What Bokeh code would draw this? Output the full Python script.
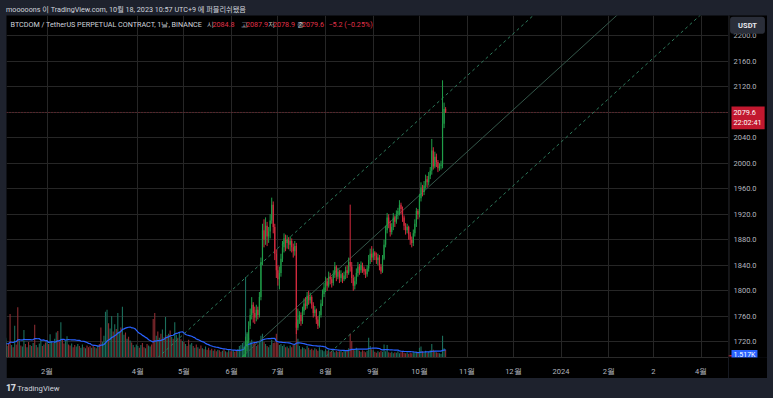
import pandas as pd
from bokeh.plotting import figure
from bokeh.models import Range1d, FixedTicker, Span, Label, Div, ColumnDataSource, Spacer
from bokeh.layouts import column, row
from bokeh.core.properties import value
from bokeh.embed import file_html
from bokeh.resources import INLINE

EPOCH = pd.Timestamp("2023-01-01")


def day(s):
    return (pd.Timestamp(s) - EPOCH).days


# ---------------- data ----------------
candle_start = "2023-06-07"
candle_first_open = 1672.0
candle_close = [
    1680, 1690, 1700, 1712, 1722, 1745, 1762, 1778, 1765, 1758, 1770, 1762, 1790, 1845, 1895, 1880, 1902, 1885, 1893, 1910, 1935, 1900, 1858, 1832,
    1818, 1828, 1850, 1868, 1882, 1875, 1880, 1872, 1878, 1868, 1862, 1870, 1742, 1755, 1762, 1752, 1768, 1780, 1776, 1792, 1785, 1790, 1778, 1765, 1770, 1755, 1745, 1762, 1780, 1795, 1805,
    1815, 1808, 1822, 1818, 1812, 1825, 1838, 1822, 1830, 1820, 1826, 1818, 1824, 1832, 1828, 1845, 1838, 1820, 1808, 1815, 1828, 1838, 1832, 1840, 1835, 1830, 1826, 1835, 1848, 1858, 1852,
    1860, 1855, 1848, 1852, 1838, 1830, 1850, 1872, 1895, 1915, 1905, 1892, 1900, 1915, 1908, 1920, 1925, 1935, 1928, 1915, 1902, 1895, 1900, 1888, 1880, 1875, 1890, 1905, 1925, 1920,
    1945, 1962, 1955, 1965, 1975, 1970, 1980, 1988, 2020, 1995, 2010, 2002, 1992, 1996, 1998, 2062, 2084.8, 2079.6,
]
candle_high = [
    1688, 1698, 1712, 1728, 1735, 1752, 1772, 1790, 1782, 1775, 1778, 1775, 1798, 1852, 1905, 1912, 1915, 1908, 1900, 1920, 1946, 1940, 1905, 1865,
    1840, 1838, 1858, 1878, 1890, 1888, 1887, 1884, 1885, 1882, 1874, 1878, 1875, 1772, 1768, 1766, 1775, 1788, 1790, 1798, 1800, 1797, 1793, 1782, 1776, 1772, 1760, 1768, 1786, 1802, 1812,
    1822, 1820, 1830, 1828, 1822, 1832, 1845, 1840, 1836, 1833, 1832, 1828, 1830, 1838, 1840, 1852, 1935, 1845, 1825, 1822, 1835, 1845, 1842, 1846, 1844, 1838, 1834, 1840, 1856, 1866, 1870,
    1866, 1862, 1860, 1858, 1856, 1842, 1856, 1880, 1902, 1922, 1920, 1910, 1906, 1922, 1918, 1926, 1930, 1942, 1938, 1932, 1918, 1906, 1905, 1902, 1892, 1885, 1896, 1912, 1930, 1928,
    1952, 1970, 1966, 1972, 1982, 1980, 1986, 1994, 2038, 2025, 2018, 2015, 2005, 2000, 2004, 2130, 2095, 2087.9,
]
candle_low = [
    1672, 1678, 1686, 1690, 1705, 1718, 1740, 1755, 1750, 1748, 1752, 1755, 1758, 1785, 1840, 1868, 1872, 1870, 1875, 1882, 1905, 1890, 1848, 1820,
    1808, 1802, 1822, 1845, 1860, 1862, 1866, 1865, 1862, 1860, 1852, 1855, 1732, 1738, 1748, 1745, 1748, 1762, 1770, 1772, 1778, 1780, 1772, 1758, 1760, 1748, 1740, 1742, 1758, 1776, 1790,
    1798, 1800, 1805, 1810, 1805, 1808, 1820, 1815, 1818, 1812, 1814, 1812, 1815, 1818, 1820, 1825, 1830, 1812, 1800, 1802, 1810, 1822, 1825, 1828, 1828, 1825, 1820, 1822, 1830, 1842, 1845,
    1848, 1848, 1842, 1840, 1832, 1826, 1828, 1848, 1868, 1890, 1898, 1885, 1888, 1895, 1900, 1905, 1912, 1918, 1920, 1908, 1895, 1888, 1890, 1880, 1872, 1868, 1870, 1885, 1900, 1912,
    1915, 1940, 1948, 1950, 1960, 1962, 1965, 1975, 1982, 1990, 1992, 1994, 1986, 1988, 1990, 1992, 2055, 2078.9,
]

vol_start = "2022-12-22"
vol_k = [
    # late Dec / early Jan (left of the visible window, feeds the MA)
    3.1, 2.4, 2.9, 2.2, 3.4, 2.6, 2.0, 3.8, 2.5, 2.7, 2.3, 3.0, 2.1, 2.8, 2.4,
    # Jan
    2.2, 2.6, 8.4, 2.4, 2.0, 6.1, 2.5, 9.7, 3.2, 2.3, 2.1, 5.3, 2.6, 2.0, 3.0, 2.4, 2.2, 2.8, 6.3, 2.4, 2.0, 2.7, 3.3, 2.2, 2.5, 2.9,
    # Feb
    3.0, 2.6, 4.5, 3.2, 2.8, 3.6, 4.8, 5.1, 3.0, 6.8, 3.4, 2.7, 3.2, 4.1, 2.5, 2.3, 2.7, 2.0, 2.4, 2.1, 2.6, 2.2, 1.9, 2.5, 2.0, 1.8, 2.3, 2.0,
    # Mar
    2.2, 1.9, 2.4, 2.0, 1.8, 2.3, 2.6, 5.8, 3.0, 4.2, 8.8, 9.2, 6.6, 5.6, 8.0, 5.0, 6.4, 5.5, 8.6, 5.0, 5.8, 9.8, 4.4, 4.8, 3.6, 4.0, 3.3, 2.9, 2.4, 2.0, 2.5,
    # Apr
    2.2, 1.9, 2.4, 2.8, 2.0, 1.8, 2.6, 2.3, 2.1, 2.5, 7.4, 8.6, 4.2, 5.0, 3.8, 4.6, 5.4, 3.9, 7.8, 4.3, 4.6, 5.2, 4.0, 3.6, 6.8, 4.4, 3.8, 4.9, 3.5, 3.2,
    # May
    3.0, 2.6, 2.2, 3.4, 2.5, 2.8, 2.2, 1.9, 2.5, 2.0, 1.7, 2.3, 1.8, 1.6, 2.1, 1.5, 1.9, 1.4, 1.7, 1.3, 1.6, 1.2, 1.5, 1.4, 1.1, 1.3, 1.6, 1.2, 1.0, 1.4, 1.2,
    # Jun
    1.2, 1.4, 1.1, 1.3, 1.6, 2.2, 2.4, 2.8, 3.0, 15.5, 4.6, 3.8, 3.0, 3.4, 2.6, 2.9, 2.2, 2.5, 3.1, 4.2, 4.6, 3.0, 2.6, 2.2, 2.0, 2.4, 3.4, 2.8, 2.9, 4.6,
    # Jul
    2.8, 2.4, 2.6, 2.2, 2.5, 2.0, 2.1, 1.8, 2.3, 2.0, 2.4, 2.6, 6.8, 3.6, 2.2, 1.6, 2.0, 1.8, 1.6, 2.2, 1.9, 1.5, 1.7, 1.4, 1.8, 1.6, 1.3, 2.0, 1.5, 1.4, 1.2,
    # Aug
    1.6, 1.3, 1.5, 1.1, 1.2, 1.4, 1.0, 1.3, 1.1, 1.2, 1.4, 1.0, 1.3, 1.2, 1.5, 1.8, 4.6, 3.2, 1.6, 1.4, 1.9, 1.5, 1.3, 1.1, 1.4, 1.2, 1.0, 1.3, 3.8, 2.2, 1.6,
    # Sep
    1.4, 1.1, 0.9, 1.2, 1.0, 1.3, 1.1, 2.5, 1.2, 2.4, 1.0, 0.9, 1.1, 0.8, 1.0, 0.9, 1.2, 0.8, 1.0, 1.1, 0.9, 0.8, 1.0, 0.7, 0.9, 0.8, 1.0, 0.9, 1.1, 1.0,
    # Oct
    1.9, 2.1, 1.2, 1.0, 1.3, 0.9, 1.1, 1.4, 2.6, 1.5, 1.2, 1.0, 0.9, 0.8, 0.7, 4.2, 1.8, 1.517,
]
# up/down of the volume bars before the first candle shown
vol_dir_pre = ("duduuddudu" "duudd"
               "uddududdud" "uududududu" "duudud"
               "uduuduuddu" "dduudduddu" "uduududd"
               "dududud" "duuuudu" "ududuud" "uududud" "udu"
               "ududdud" "uudddud" "udududu" "duduudu" "du"
               "dudduud" "ududdud" "uddudud" "duddudu" "dud"
               "dudduu")

time_tick_dates = ["2023-02-01", "2023-04-01", "2023-05-01", "2023-06-01", "2023-07-01", "2023-08-01", "2023-09-01",
                   "2023-10-01", "2023-11-01", "2023-12-01", "2024-01-01", "2024-02-01", "2024-03-01", "2024-04-01"]
time_tick_labels = ["2월", "4월", "5월", "6월", "7월", "8월", "9월", "10월", "11월", "12월", "2024", "2월", "2", "4월"]
price_ticks = [1720, 1760, 1800, 1840, 1880, 1920, 1960, 2000, 2040, 2080, 2120, 2160, 2200]
price_tick_labels = ["1720.0", "1760.0", "1800.0", "1840.0", "1880.0", "1920.0", "1960.0", "2000.0", "2040.0", "",
                     "2120.0", "2160.0", "2200.0"]

channel_dates = ["2023-04-11", "2024-04-26"]
channel_upper = [1688.4, 2526.6]
channel_mid = [1569.1, 2407.3]
channel_lower = [1450.1, 2288.3]

header_text = "mooooons 이 TradingView.com, 10월 18, 2023 10:57 UTC+9 에 퍼블리쉬됐음"
legend_title = "BTCDOM / TetherUS PERPETUAL CONTRACT, 1날, BINANCE"
last_change = "−5.2 (−0.25%)"
countdown = "22:02:41"
last_volume_text = "1.517K"
currency = "USDT"

# ---------------- styling ----------------
UP = "#1f9d48"
DOWN = "#d42a3f"
VUP = "#1b6e5b"
VDOWN = "#8b2c31"
NAVY = "#1e222d"
FONT = "Roboto"
AXIS_TXT = "#b2b5be"

# ---------------- derived ----------------
c_days = [day(candle_start) + i for i in range(len(candle_close))]
c_open = [candle_first_open] + candle_close[:-1]
c_col = [UP if c >= o else DOWN for o, c in zip(c_open, candle_close)]
c_top = [max(o, c) for o, c in zip(c_open, candle_close)]
c_bot = [min(o, c) for o, c in zip(c_open, candle_close)]
for i in range(len(c_top)):
    if c_top[i] - c_bot[i] < 0.8:
        c_top[i] = c_bot[i] + 0.8

v_days = [day(vol_start) + i for i in range(len(vol_k))]
cdir = {d: ("u" if c >= o else "d") for d, o, c in zip(c_days, c_open, candle_close)}
v_col = []
k = 0
for d in v_days:
    if d in cdir:
        s_ = cdir[d]
    else:
        s_ = vol_dir_pre[k] if k < len(vol_dir_pre) else "u"
        k += 1
    v_col.append(VUP if s_ == "u" else VDOWN)
v_ma = pd.Series(vol_k).rolling(20, min_periods=1).mean().tolist()

# ---------------- geometry (page pixels) ----------------
FR_L, FR_R = 6.0, 728.0      # chart frame, page x
FR_T, FR_B = 15.0, 362.0     # chart frame, page y
XR = (4.68, 473.8)           # days since 2023-01-01
YR = (1695.3, 2231.6)        # price
VOL_MAX = (FR_B - FR_T) * 0.19
PX_Y = (YR[1] - YR[0]) / (FR_B - FR_T)     # price units per pixel
PX_V = VOL_MAX / (FR_B - FR_T)             # volume units per pixel


def X(px):
    return XR[0] + (px - FR_L) * (XR[1] - XR[0]) / (FR_R - FR_L)


def Y(py):
    return YR[0] + (FR_B - py) * PX_Y


H_MID = 363  # page 15..378
p = figure(width=722, height=H_MID, x_range=Range1d(*XR), y_range=Range1d(*YR),
           output_backend="svg", toolbar_location=None, title=None,
           y_axis_location=None, x_axis_location="below",
           background_fill_color="black", border_fill_color="black",
           min_border_left=0, min_border_right=0, min_border_top=0, min_border_bottom=16,
           margin=(0, 0, 0, 0))
p.outline_line_color = None
p.extra_y_ranges = {"vol": Range1d(0, VOL_MAX)}

tick_days = [day(d) for d in time_tick_dates]
p.xgrid.ticker = FixedTicker(ticks=tick_days)
p.ygrid.ticker = FixedTicker(ticks=price_ticks)
for g in (p.xgrid[0], p.ygrid[0]):
    g.grid_line_color = "#262626"
    g.grid_line_width = 1

xa = p.xaxis[0]
xa.ticker = FixedTicker(ticks=tick_days)
xa.major_label_overrides = {d: t for d, t in zip(tick_days, time_tick_labels)}
xa.axis_line_color = "#2a2a2a"
xa.major_tick_line_color = None
xa.minor_tick_line_color = None
xa.major_label_text_color = AXIS_TXT
xa.major_label_text_font = FONT
xa.major_label_text_font_size = "7.5px"
xa.major_label_standoff = 3

# volume + MA
vsrc = ColumnDataSource(dict(x=v_days, v=vol_k, c=v_col))
p.vbar(x="x", width=0.72, top="v", bottom=0, fill_color="c", line_color=None,
       source=vsrc, y_range_name="vol")
p.line(v_days, v_ma, line_color="#2962ff", line_width=1.2, y_range_name="vol")

# parallel channel drawing
ch_x = [day(d) for d in channel_dates]
p.line(ch_x, channel_upper, line_color="#2e7a5c", line_width=1, line_dash="3 3")
p.line(ch_x, channel_lower, line_color="#2e7a5c", line_width=1, line_dash="3 3")
p.line(ch_x, channel_mid, line_color="#34574a", line_width=1)

# candles
csrc = ColumnDataSource(dict(x=c_days, h=candle_high, l=candle_low, t=c_top, b=c_bot, c=c_col))
p.segment(x0="x", y0="l", x1="x", y1="h", line_color="c", line_width=1, source=csrc)
p.vbar(x="x", width=0.78, top="t", bottom="b", fill_color="c", line_color=None, source=csrc)

# last price line
p.add_layout(Span(location=candle_close[-1], dimension="width", line_color="#c8283c",
                  line_dash="1 2", line_width=1, line_alpha=0.6))


def lab(text, px, py, color, size="7.2px"):
    return Label(x=X(px), y=Y(py), text=text, text_color=color, text_font=FONT,
                 text_font_size=size, text_align="left", text_baseline="middle")


LG = "#d1d4dc"
RED = "#e0324a"
o_, h_, l_, c_ = c_open[-1], candle_high[-1], candle_low[-1], candle_close[-1]
pieces = [(legend_title, 10, LG), ("시", 206.5, LG), (f"{o_:.1f}", 212, RED),
          ("고", 240, LG), (f"{h_:.1f}", 245.5, RED), ("저", 267, LG), (f"{l_:.1f}", 272.5, RED),
          ("종", 296, LG), (f"{c_:.1f}", 301.5, RED), (last_change, 328, RED)]
for t, px, col in pieces:
    p.add_layout(lab(t, px, 24.3, col))

# ---------------- right price scale strip ----------------
s = figure(width=39, height=H_MID, x_range=Range1d(0, 39), y_range=p.y_range,
           output_backend="svg", toolbar_location=None, title=None,
           x_axis_location=None, y_axis_location=None,
           background_fill_color="black", border_fill_color="black",
           min_border_left=0, min_border_right=0, min_border_top=0, min_border_bottom=16,
           margin=(0, 0, 0, 0))
s.outline_line_color = None
s.grid.visible = False
s.extra_y_ranges = {"vol": p.extra_y_ranges["vol"]}
s.add_layout(Span(location=0.5, dimension="height", line_color="#2a2a2a", line_width=1))
tsrc = ColumnDataSource(dict(y=[t for t, l in zip(price_ticks, price_tick_labels) if l],
                             t=[l for l in price_tick_labels if l]))
s.text(x=5, y="y", text="t", source=tsrc, text_color=AXIS_TXT, text_font=value(FONT),
       text_font_size=value("7.5px"), text_align="left", text_baseline="middle")

s.add_layout(Label(x=19, y=Y(25), text=currency, text_color="#e6e8ee", text_font=FONT,
                   text_font_size="7.5px", text_font_style="bold", text_align="center",
                   text_baseline="middle", background_fill_color="#2a2e39", border_radius=3,
                   padding=dict(left=8, right=8, top=4, bottom=4)))
# last-price tag: top of the two-line box sits 6px above the price
s.add_layout(Label(x=3, y=c_ + 6 * PX_Y, text=f"{c_:.1f}\n{countdown}", text_color="white",
                   text_font=FONT, text_font_size="7.3px", text_align="left", text_baseline="top",
                   background_fill_color="#c2182f",
                   padding=dict(left=2, right=3, top=1, bottom=2)))
# small red marker under the volume tag
s.quad(left=0, right=15, bottom=1 * PX_V, top=2.6 * PX_V, y_range_name="vol",
       fill_color="#c2182f", line_color=None)
s.add_layout(Label(x=3, y=vol_k[-1] - 5 * PX_V, y_range_name="vol", text=last_volume_text,
                   text_color="white", text_font=FONT, text_font_size="7px", text_align="left",
                   text_baseline="middle", background_fill_color="#2962ff",
                   padding=dict(left=2, right=2, top=1, bottom=0)))

# ---------------- header / footer ----------------
DIV_FONT = "Roboto, 'Noto Sans CJK KR', sans-serif"
header = Div(text=f'<div style="padding:5px 0 0 6px;line-height:9px;white-space:nowrap">{header_text}</div>',
             width=773, height=15, margin=(0, 0, 0, 0),
             styles={"background-color": NAVY, "color": "#d1d4dc", "font-size": "7.2px",
                     "font-family": DIV_FONT, "overflow": "hidden"})
footer = Div(text='<div style="padding:0 0 0 6px;line-height:20px;white-space:nowrap">'
                  '<span style="font-weight:900;font-size:9px;letter-spacing:-0.5px">17</span> TradingView</div>',
             width=773, height=20, margin=(0, 0, 0, 0),
             styles={"background-color": NAVY, "color": "#d1d4dc", "font-size": "7.7px",
                     "font-family": DIV_FONT, "overflow": "hidden"})

sp_l = Spacer(width=6, height=H_MID, margin=(0, 0, 0, 0), styles={"background-color": NAVY})
sp_r = Spacer(width=6, height=H_MID, margin=(0, 0, 0, 0), styles={"background-color": NAVY})
mid = row(sp_l, p, s, sp_r, spacing=0, margin=(0, 0, 0, 0))
layout = column(header, mid, footer, spacing=0, margin=(0, 0, 0, 0),
                styles={"background-color": NAVY})

open("out.html", "w").write(file_html(layout, INLINE))
